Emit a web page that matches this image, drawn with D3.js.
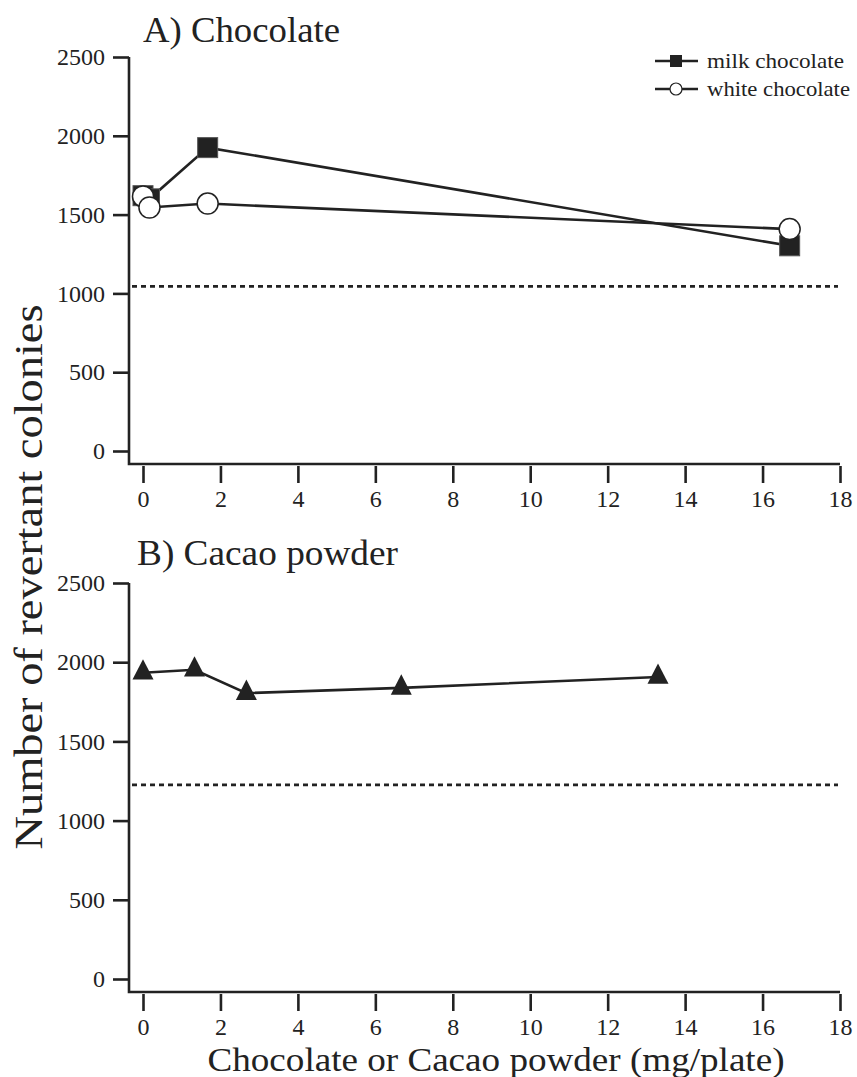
<!DOCTYPE html>
<html>
<head>
<meta charset="utf-8">
<script src="https://cdn.jsdelivr.net/npm/d3@7/dist/d3.min.js"></script>
<style>
  html, body { margin: 0; padding: 0; background: #fff; }
  svg { display: block; }
  text { font-family: "Liberation Serif", "Times New Roman", serif; fill: #222; }
</style>
</head>
<body>
<svg id="chart" width="857" height="1077"></svg>
<script>
// ---- Data ----
const xTicks = [0, 2, 4, 6, 8, 10, 12, 14, 16, 18];
const yTicks = [0, 500, 1000, 1500, 2000, 2500];

const chocDose = [0, 0.167, 1.67, 16.7];
const milkChocolate = [1620, 1600, 1925, 1302];
const whiteChocolate = [1615, 1545, 1570, 1408];
const chocControl = 1045;

const cacaoDose = [0, 1.33, 2.67, 6.67, 13.3];
const cacaoPowder = [1933, 1952, 1805, 1838, 1907];
const cacaoControl = 1225;

const panelTitles = ["A) Chocolate", "B) Cacao powder"];
const seriesNames = ["milk chocolate", "white chocolate"];
const yTitle = "Number of revertant colonies";
const xTitle = "Chocolate or Cacao powder (mg/plate)";

// ---- Layout ----
const svg = d3.select("#chart");
const ink = "#222";
const serif = '"Liberation Serif", "Times New Roman", serif';
const x = d3.scaleLinear().domain([0, 18]).range([143, 840]);
const axisX = 129;

const panels = [
  { title: panelTitles[0], titleX: 143, titleY: 42, titleLen: 197, y0: 451, y1: 57, axisY: 464 },
  { title: panelTitles[1], titleX: 137, titleY: 565, titleLen: 261, y0: 979, y1: 583, axisY: 992 }
];

panels.forEach(p => {
  p.y = d3.scaleLinear().domain([0, 2500]).range([p.y0, p.y1]);
  const g = svg.append("g");

  // axes frame (y axis + x axis as one L)
  g.append("path")
    .attr("d", `M${axisX},${p.y(2500)}V${p.axisY}H${x(18)}`)
    .attr("fill", "none").attr("stroke", ink).attr("stroke-width", 2.6);

  // y ticks
  const yAxis = d3.axisLeft(p.y).tickValues(yTicks).tickSize(16).tickPadding(8).tickFormat(d3.format("d"));
  const ya = g.append("g").attr("transform", `translate(${axisX},0)`).call(yAxis)
    .attr("font-family", serif).attr("font-size", 24);
  ya.select(".domain").remove();
  ya.selectAll(".tick line").attr("stroke", ink).attr("stroke-width", 2.6);
  ya.selectAll(".tick text").style("font-family", serif).style("font-size", "24px").attr("fill", ink);

  // x ticks
  const xAxis = d3.axisBottom(x).tickValues(xTicks).tickSize(17).tickPadding(7).tickFormat(d3.format("d"));
  const xa = g.append("g").attr("transform", `translate(0,${p.axisY + 2})`).call(xAxis)
    .attr("font-family", serif).attr("font-size", 24);
  xa.select(".domain").remove();
  xa.selectAll(".tick line").attr("stroke", ink).attr("stroke-width", 2.6);
  xa.selectAll(".tick text").style("font-family", serif).style("font-size", "24px").attr("fill", ink);

  // panel title
  g.append("text").attr("x", p.titleX).attr("y", p.titleY)
    .style("font-size", "35px")
    .attr("textLength", p.titleLen).attr("lengthAdjust", "spacingAndGlyphs")
    .text(p.title);
});

// control dashed lines
[[panels[0], chocControl], [panels[1], cacaoControl]].forEach(([p, v]) => {
  svg.append("line")
    .attr("x1", axisX + 3).attr("x2", x(18) - 2)
    .attr("y1", p.y(v)).attr("y2", p.y(v))
    .attr("stroke", ink).attr("stroke-width", 2.8).attr("stroke-dasharray", "5,4");
});

// ---- Panel A series ----
const pA = panels[0];
const lineA = d3.line().x(d => x(d[0])).y(d => pA.y(d[1]));
const milkPts = chocDose.map((d, i) => [d, milkChocolate[i]]);
const whitePts = chocDose.map((d, i) => [d, whiteChocolate[i]]);

svg.append("path").datum(milkPts).attr("d", lineA)
  .attr("fill", "none").attr("stroke", ink).attr("stroke-width", 2.6);
svg.append("path").datum(whitePts).attr("d", lineA)
  .attr("fill", "none").attr("stroke", ink).attr("stroke-width", 2.6);

const sq = 20;
svg.append("g").selectAll("rect").data(milkPts).join("rect")
  .attr("x", d => x(d[0]) - sq / 2).attr("y", d => pA.y(d[1]) - sq / 2)
  .attr("width", sq).attr("height", sq)
  .attr("fill", ink).attr("stroke", "#555").attr("stroke-width", 1);

svg.append("g").selectAll("circle").data(whitePts).join("circle")
  .attr("cx", d => x(d[0])).attr("cy", d => pA.y(d[1])).attr("r", 10.5)
  .attr("fill", "#fff").attr("stroke", ink).attr("stroke-width", 1.5);

// legend
const lg = svg.append("g");
const legendLens = [137, 143];
[[61, "square"], [89, "circle"]].forEach(([ly, shape], i) => {
  lg.append("line").attr("x1", 655).attr("x2", 698).attr("y1", ly).attr("y2", ly)
    .attr("stroke", ink).attr("stroke-width", 2.6);
  if (shape === "square") {
    lg.append("rect").attr("x", 676 - 6).attr("y", ly - 6).attr("width", 12).attr("height", 12).attr("fill", ink);
  } else {
    lg.append("circle").attr("cx", 676).attr("cy", ly).attr("r", 6)
      .attr("fill", "#fff").attr("stroke", ink).attr("stroke-width", 1.2);
  }
  lg.append("text").attr("x", 707).attr("y", ly + 7).style("font-size", "22px")
    .attr("textLength", legendLens[i]).attr("lengthAdjust", "spacingAndGlyphs")
    .text(seriesNames[i]);
});

// ---- Panel B series ----
const pB = panels[1];
const cacaoPts = cacaoDose.map((d, i) => [d, cacaoPowder[i]]);
const lineB = d3.line().x(d => x(d[0])).y(d => pB.y(d[1]));
svg.append("path").datum(cacaoPts).attr("d", lineB)
  .attr("fill", "none").attr("stroke", ink).attr("stroke-width", 2.6);

// triangle centred at centroid
const tri = "M0,-13.5L10.5,6.8L-10.5,6.8Z";
svg.append("g").selectAll("path").data(cacaoPts).join("path")
  .attr("d", tri)
  .attr("transform", d => `translate(${x(d[0])},${pB.y(d[1])})`)
  .attr("fill", ink);

// ---- Axis titles ----
svg.append("text")
  .attr("transform", "translate(42,577) rotate(-90)")
  .attr("text-anchor", "middle")
  .style("font-size", "40px")
  .attr("textLength", 545).attr("lengthAdjust", "spacingAndGlyphs")
  .text(yTitle);

svg.append("text")
  .attr("x", 496).attr("y", 1071)
  .attr("text-anchor", "middle")
  .style("font-size", "34px")
  .attr("textLength", 577).attr("lengthAdjust", "spacingAndGlyphs")
  .text(xTitle);
</script>
</body>
</html>
